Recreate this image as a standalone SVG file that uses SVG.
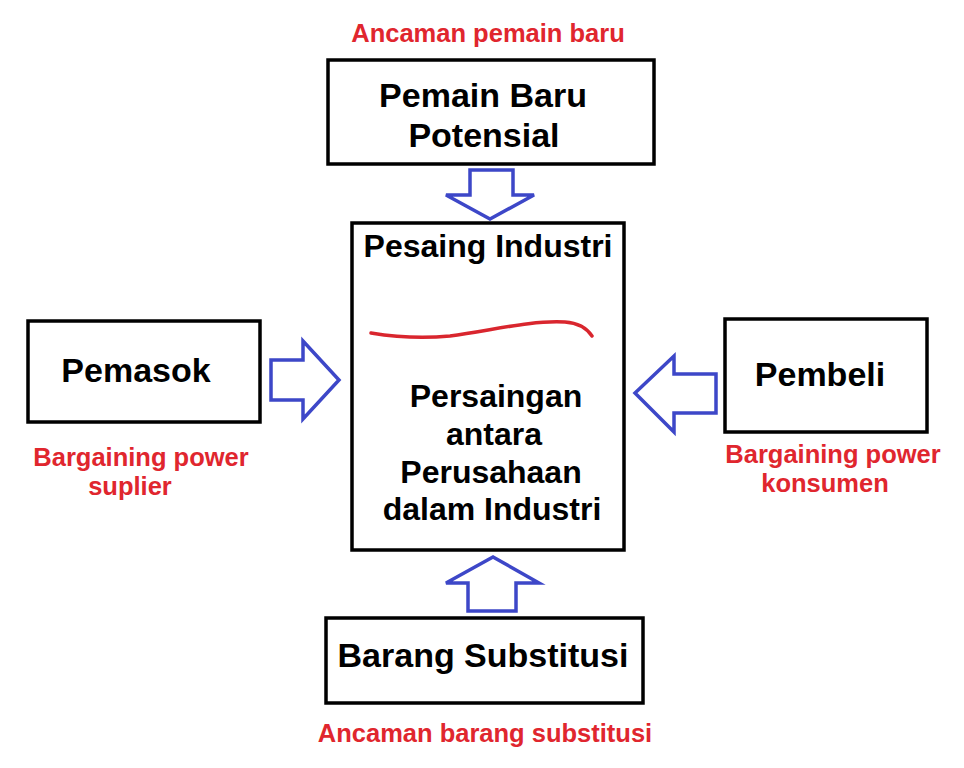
<svg xmlns="http://www.w3.org/2000/svg" width="964" height="768" viewBox="0 0 964 768">
<style>
.box{fill:#fff;stroke:#000;stroke-width:3.5}
.t{font-family:"Liberation Sans",Arial,sans-serif;font-weight:bold;fill:#000;text-anchor:middle}
.b{font-size:34px}
.c{font-size:32px}
.r{font-family:"Liberation Sans",Arial,sans-serif;font-weight:bold;fill:#e0262e;font-size:25.5px;text-anchor:middle}
.arr{fill:#fff;stroke:#3d47c8;stroke-width:3.5;stroke-linejoin:miter}
</style>
<rect width="964" height="768" fill="#fff"/>
<g id="connectors">
<polygon class="arr" points="470,170 513,170 513,195 534,195 490,219 446,195 470,195"/>
<polygon class="arr" points="271,360 303,360 303,341 339,380 303,419 303,400 271,400"/>
<polygon class="arr" points="716,374 674,374 674,356 635,393 674,432 674,413 716,413"/>
<polygon class="arr" points="468,611 468,583 446,583 493,557 539,583 516,583 516,611"/>
</g>
<g id="pemain-baru">
<rect class="box" x="328" y="60" width="326" height="104"/>
<text class="t b" x="483" y="107">Pemain Baru</text>
<text class="t b" x="484" y="147">Potensial</text>
<text class="r" x="488" y="42">Ancaman pemain baru</text>
</g>
<g id="pesaing">
<rect class="box" x="352" y="223" width="272" height="327"/>
<text class="t c" x="488" y="257">Pesaing Industri</text>
<path d="M371,333 C395,337 420,339 450,336 C490,331 530,320 565,322 C580,323 588,330 592,336" fill="none" stroke="#d9262e" stroke-width="3.5" stroke-linecap="round"/>
<text class="t c" x="496" y="407">Persaingan</text>
<text class="t c" x="494" y="445">antara</text>
<text class="t c" x="491" y="483">Perusahaan</text>
<text class="t c" x="492" y="520">dalam Industri</text>
</g>
<g id="pemasok">
<rect class="box" x="28" y="321" width="232" height="101"/>
<text class="t b" x="136" y="382">Pemasok</text>
<text class="r" x="141" y="466">Bargaining power</text>
<text class="r" x="130" y="495">suplier</text>
</g>
<g id="pembeli">
<rect class="box" x="725" y="319" width="202" height="113"/>
<text class="t b" x="820" y="386">Pembeli</text>
<text class="r" x="833" y="463">Bargaining power</text>
<text class="r" x="825" y="492">konsumen</text>
</g>
<g id="barang">
<rect class="box" x="326" y="618" width="317" height="85"/>
<text class="t b" x="483" y="667">Barang Substitusi</text>
<text class="r" x="485" y="742">Ancaman barang substitusi</text>
</g>
</svg>
